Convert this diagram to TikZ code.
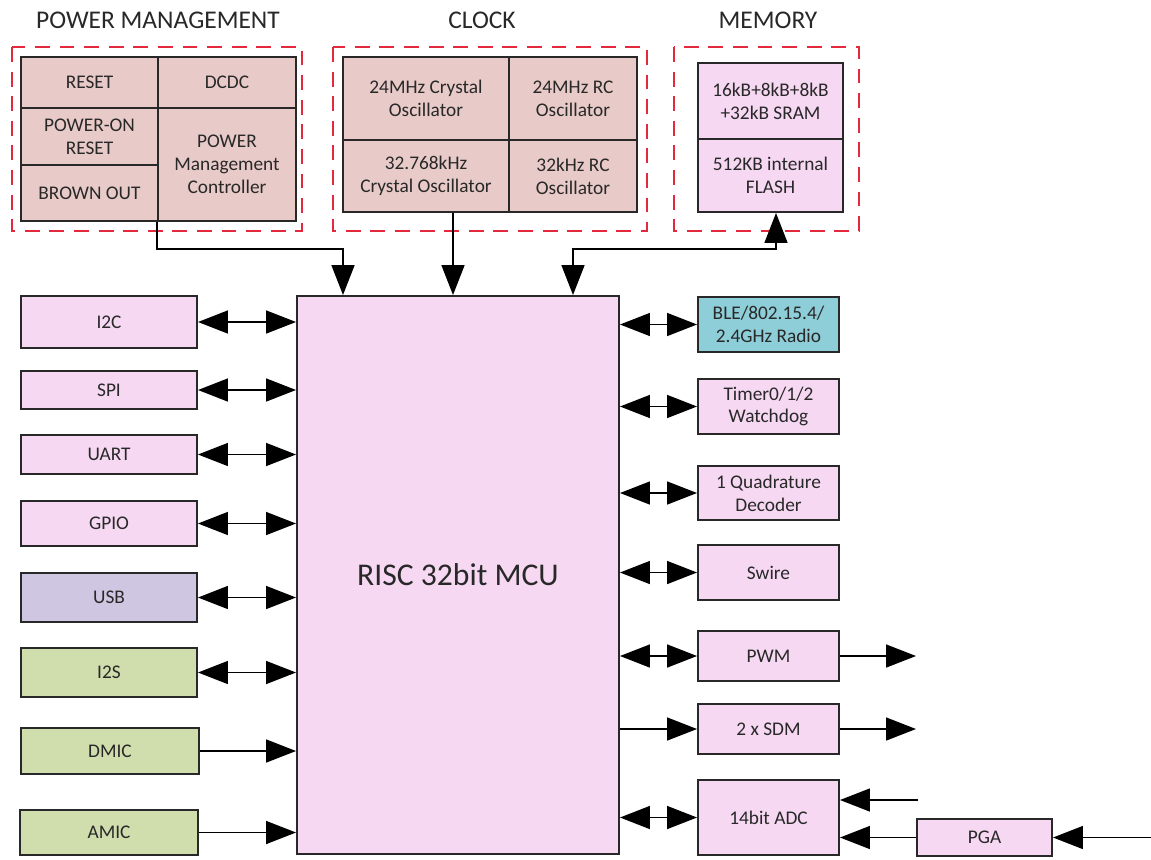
\documentclass[tikz,border=0pt]{standalone}
\usepackage{fontspec}
\setmainfont{Carlito}
\usepackage{tikz}
\usetikzlibrary{arrows.meta,positioning}

\definecolor{pmrose}{RGB}{232,203,200}
\definecolor{pinkfill}{RGB}{246,216,242}
\definecolor{radiocyan}{RGB}{142,206,216}
\definecolor{usblav}{RGB}{207,199,225}
\definecolor{audiogreen}{RGB}{208,222,174}
\definecolor{dashred}{RGB}{228,40,62}
\definecolor{inkgray}{RGB}{40,40,40}

\begin{document}
\begin{tikzpicture}[x=0.02cm,y=-0.02cm,
  blk/.style={draw=inkgray,line width=1.1pt,inner sep=0pt,align=center,
    font=\fontsize{11}{13}\selectfont,text=inkgray},
  sz/.style 2 args={minimum width=#1*0.02cm,minimum height=#2*0.02cm},
  grp/.style={draw=dashred,line width=1.4pt,dash pattern=on 8.5pt off 5.5pt},
  ttl/.style={font=\fontsize{14.5}{16}\selectfont,text=inkgray},
  arr/.style={-{Triangle[length=17pt,width=13pt]},line width=1pt,draw=black},
  darr/.style={{Triangle[length=17pt,width=13pt]}-{Triangle[length=17pt,width=13pt]},
    line width=1pt,draw=black}]
  \useasboundingbox (0,0) rectangle (1151,859);

  \node[ttl] (pmt) at (158,20) {POWER MANAGEMENT};
  \node[ttl] (clkt) at (482,20) {CLOCK};
  \node[ttl] (memt) at (768,20) {MEMORY};
  \draw[grp] (12,47) rectangle (302,231);
  \draw[grp] (333,47) rectangle (647,231);
  \draw[grp] (674,47) rectangle (859,231);

  % power management
  \node[blk,fill=pmrose,sz={137}{51}] (reset) at (89.5,82.5) {RESET};
  \node[blk,fill=pmrose,sz={137}{57}] (por) at (89.5,136.5) {POWER-ON\\RESET};
  \node[blk,fill=pmrose,sz={137}{56}] (bod) at (89.5,193) {BROWN OUT};
  \node[blk,fill=pmrose,sz={138}{51}] (dcdc) at (227,82.5) {DCDC};
  \node[blk,fill=pmrose,sz={138}{113}] (pmc) at (227,164.5) {POWER\\Management\\Controller};

  % clock
  \node[blk,fill=pmrose,sz={166}{83}] (xo24) at (426,98.5) {24MHz Crystal\\Oscillator};
  \node[blk,fill=pmrose,sz={128}{83}] (rc24) at (573,98.5) {24MHz RC\\Oscillator};
  \node[blk,fill=pmrose,sz={166}{72}] (xo32) at (426,176) {32.768kHz\\Crystal Oscillator};
  \node[blk,fill=pmrose,sz={128}{72}] (rc32) at (573,176) {32kHz RC\\Oscillator};

  % memory
  \node[blk,fill=pinkfill,sz={145}{76}] (sram) at (770.5,101) {16kB+8kB+8kB\\+32kB SRAM};
  \node[blk,fill=pinkfill,sz={145}{73}] (flash) at (770.5,175.5) {512KB internal\\FLASH};

  \node[blk,fill=pinkfill,sz={322}{558},font=\fontsize{18}{20}\selectfont] (mcu) at (458,575) {RISC 32bit MCU};

  % left peripherals
  \node[blk,fill=pinkfill,sz={176}{52}] (i2c) at (109,322) {I2C};
  \node[blk,fill=pinkfill,sz={176}{38}] (spi) at (109,390) {SPI};
  \node[blk,fill=pinkfill,sz={176}{39}] (uart) at (109,454.5) {UART};
  \node[blk,fill=pinkfill,sz={176}{45}] (gpio) at (109,523.5) {GPIO};
  \node[blk,fill=usblav,sz={176}{49}] (usb) at (109,597.5) {USB};
  \node[blk,fill=audiogreen,sz={176}{49}] (i2s) at (109,672.5) {I2S};
  \node[blk,fill=audiogreen,sz={178}{46}] (dmic) at (110,751) {DMIC};
  \node[blk,fill=audiogreen,sz={178}{45}] (amic) at (109,832.5) {AMIC};

  % right peripherals
  \node[blk,fill=radiocyan,sz={141}{55}] (ble) at (768.5,324.5) {BLE/802.15.4/\\2.4GHz Radio};
  \node[blk,fill=pinkfill,sz={141}{55}] (timer) at (768.5,406.5) {Timer0/1/2\\Watchdog};
  \node[blk,fill=pinkfill,sz={141}{54}] (qdec) at (768.5,493) {1 Quadrature\\Decoder};
  \node[blk,fill=pinkfill,sz={141}{55}] (swire) at (768.5,572.5) {Swire};
  \node[blk,fill=pinkfill,sz={141}{50}] (pwm) at (768.5,656) {PWM};
  \node[blk,fill=pinkfill,sz={141}{50}] (sdm) at (768.5,729) {2 x SDM};
  \node[blk,fill=pinkfill,sz={141}{75}] (adc) at (768.5,817.5) {14bit ADC};
  \node[blk,fill=pinkfill,sz={135}{37}] (pga) at (984.5,837.5) {PGA};

  \coordinate (pmbend) at (343,249);
  \coordinate (clkx) at (453,0);
  \coordinate (memx) at (573,0);
  \coordinate (membend) at (776,249);
  \coordinate (outx) at (916,0);
  \coordinate (adcin) at (918,800);
  \coordinate (pgain) at (1151,837.5);

  \draw[arr] (pmc.south west) |- (pmbend) -- (pmbend |- mcu.north);
  \draw[arr] (clkx |- xo32.south) -- (clkx |- mcu.north);
  \draw[darr] (memx |- mcu.north) |- (membend) -- (membend |- flash.south);

  \foreach \n in {i2c,spi,uart,gpio,usb,i2s}
    \draw[darr] (\n.east) -- (\n.east -| mcu.west);
  \foreach \n in {dmic,amic}
    \draw[arr] (\n.east) -- (\n.east -| mcu.west);
  \foreach \n in {ble,timer,qdec,swire,pwm,adc}
    \draw[darr] (\n.west -| mcu.east) -- (\n.west);
  \draw[arr] (sdm.west -| mcu.east) -- (sdm.west);

  \draw[arr] (pwm.east) -- (pwm.east -| outx);
  \draw[arr] (sdm.east) -- (sdm.east -| outx);
  \draw[arr] (adcin) -- (adcin -| adc.east);
  \draw[arr] (pga.west) -- (pga.west -| adc.east);
  \draw[arr] (pgain) -- (pga.east);
\end{tikzpicture}
\end{document}
